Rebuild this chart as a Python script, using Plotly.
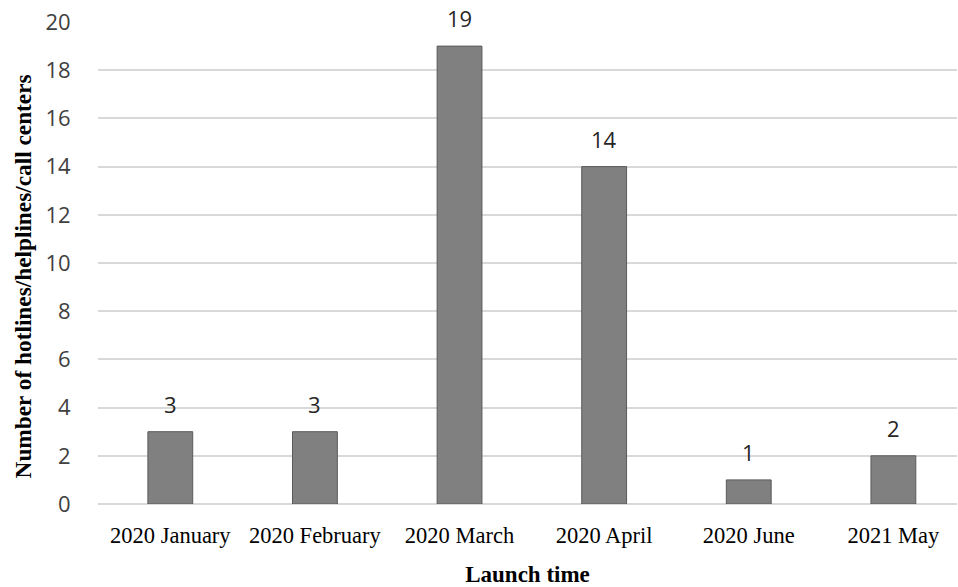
import plotly.graph_objects as go

categories = ["2020 January", "2020 February", "2020 March", "2020 April", "2020 June", "2021 May"]
counts = [3, 3, 19, 14, 1, 2]
y_ticks = [0, 2, 4, 6, 8, 10, 12, 14, 16, 18, 20]

fig = go.Figure()
fig.add_trace(go.Bar(
    x=categories, y=counts, width=0.31,
    marker=dict(color="#808080", line=dict(color="#5a5a5a", width=1)),
    hoverinfo="skip",
))
for c, v in zip(categories, counts):
    fig.add_annotation(x=c, y=v, text=str(v), showarrow=False, yanchor="bottom",
                       yshift=11, font=dict(family="Open Sans", size=22, color="#262626"))

fig.add_annotation(text="<b>Number of hotlines/helplines/call centers</b>", textangle=-90,
                   xref="paper", yref="paper", x=(23 - 98) / 859, y=(507 - 278) / 485,
                   xanchor="center", yanchor="middle", showarrow=False,
                   font=dict(family="Liberation Serif", size=23.3, color="#000000"))

fig.update_layout(
    width=958, height=587,
    margin=dict(l=98, r=1, t=22, b=80),
    paper_bgcolor="white", plot_bgcolor="white",
    showlegend=False,
    xaxis=dict(range=[-0.5, 5.44], showgrid=False, showline=False, zeroline=False,
               tickfont=dict(family="Liberation Serif", size=22.5, color="#000000"),
               ticks="outside", ticklen=11, tickcolor="rgba(0,0,0,0)",
               title=dict(text="<b>Launch time</b>", standoff=22,
                          font=dict(family="Liberation Serif", size=23, color="#000000"))),
    yaxis=dict(range=[0, 20], tickvals=y_ticks, showgrid=True, gridcolor="#d9d9d9", gridwidth=2,
               zeroline=True, zerolinecolor="#d9d9d9", zerolinewidth=2, showline=False,
               tickfont=dict(family="Open Sans", size=22, color="#404040"),
               ticks="outside", ticklen=22, tickcolor="rgba(0,0,0,0)"),
)
fig.write_html("out.html")
